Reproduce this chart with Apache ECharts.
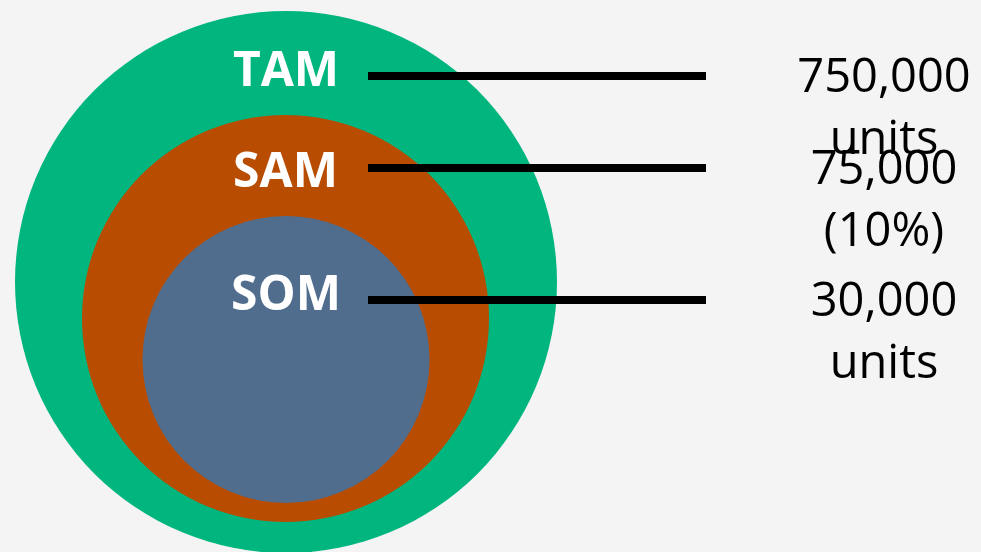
<!DOCTYPE html>
<html>
<head>
<meta charset="utf-8">
<style>
  html, body { margin: 0; padding: 0; background: #f4f4f4; }
  #chart { width: 981px; height: 552px; }
</style>
<script src="https://cdn.jsdelivr.net/npm/echarts@6/dist/echarts.min.js"></script>
</head>
<body>
<div id="chart"></div>
<script>
// Market tiers (categories)
const categories = ['TAM', 'SAM', 'SOM'];
// Market sizes
const marketValues = [750000, 75000, 30000];
// Value captions shown on the right
const valueCaptions = ['750,000\nunits', '75,000\n(10%)', '30,000\nunits'];
// Circle colours per tier
const tierColors = ['#00b67e', '#b84c00', '#506d8e'];

// Diagram layout (in axis units, axis spans the canvas)
const circleCx = [286, 285.5, 286];
const circleCy = [282, 318.5, 359.5];
const circleR = [271, 203.5, 143.5];
const tagY = [72, 173, 296];
const leaderY = [76, 168, 300];
const leaderX0 = 368, leaderX1 = 706, captionX = 884;

const chart = echarts.init(document.getElementById('chart'));

const circleData = categories.map((c, i) => [circleCx[i], circleCy[i], circleR[i], i]);
const leaderData = categories.map((c, i) => [leaderX0, leaderX1, leaderY[i], i]);
const tagData = categories.map((c, i) => [circleCx[i], tagY[i], i]);
const captionData = categories.map((c, i) => [captionX, leaderY[i], i]);

chart.setOption({
  backgroundColor: '#f4f4f4',
  animation: false,
  grid: { left: 0, right: 0, top: 0, bottom: 0 },
  xAxis: { type: 'value', min: 0, max: 981, show: false },
  yAxis: { type: 'value', min: 0, max: 552, inverse: true, show: false },
  series: [
    {
      type: 'custom',
      name: 'circles',
      data: circleData,
      z: 1,
      renderItem: function (params, api) {
        const c = api.coord([api.value(0), api.value(1)]);
        const r = api.size([api.value(2), 0])[0];
        return {
          type: 'circle',
          shape: { cx: c[0], cy: c[1], r: r },
          style: { fill: tierColors[api.value(3)] }
        };
      }
    },
    {
      type: 'custom',
      name: 'leaders',
      data: leaderData,
      z: 3,
      renderItem: function (params, api) {
        const a = api.coord([api.value(0), api.value(2)]);
        const b = api.coord([api.value(1), api.value(2)]);
        return {
          type: 'line',
          shape: { x1: a[0], y1: a[1], x2: b[0], y2: b[1] },
          style: { stroke: '#000000', lineWidth: 8 }
        };
      }
    },
    {
      type: 'custom',
      name: 'tags',
      data: tagData,
      z: 4,
      renderItem: function (params, api) {
        const p = api.coord([api.value(0), api.value(1)]);
        return {
          type: 'text',
          x: p[0], y: p[1],
          style: {
            text: categories[api.value(2)],
            fill: '#ffffff',
            font: 'bold 48px "Open Sans", sans-serif',
            align: 'center',
            verticalAlign: 'middle'
          }
        };
      }
    },
    {
      type: 'custom',
      name: 'captions',
      data: captionData,
      z: 4,
      renderItem: function (params, api) {
        const p = api.coord([api.value(0), api.value(1)]);
        return {
          type: 'text',
          x: p[0], y: p[1] - 28,
          style: {
            text: valueCaptions[api.value(2)],
            fill: '#000000',
            font: '47px "Open Sans", sans-serif',
            lineHeight: 62,
            align: 'center',
            verticalAlign: 'top'
          }
        };
      }
    }
  ]
});
</script>
</body>
</html>
